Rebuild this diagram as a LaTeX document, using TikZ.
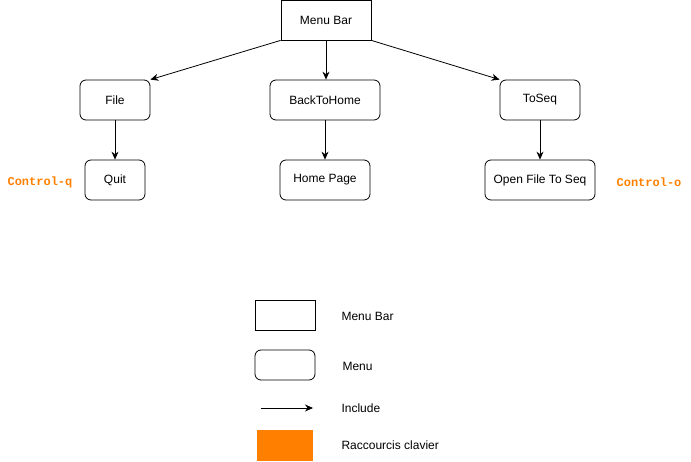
\documentclass[tikz,border=0pt]{standalone}
\usepackage{fontspec}
\setmainfont{Liberation Sans}
\newfontfamily\shortcutfont{Liberation Mono}
\usetikzlibrary{arrows.meta}
\definecolor{shortcut}{HTML}{FF8000}
\begin{document}
\begin{tikzpicture}[x=1pt,y=-1pt]
    \tikzstyle{menubar}=[draw=black,line width=0.8pt,minimum width=90pt,minimum height=40pt,inner sep=0pt,font=\fontsize{12}{14}\selectfont]
    \tikzstyle{menu}=[draw=black,line width=0.8pt,rounded corners=6pt,minimum height=40pt,inner sep=0pt,font=\fontsize{12}{14}\selectfont]
    \tikzstyle{include}=[draw,line width=0.8pt,-{Stealth[length=8pt,width=7pt]}]
    \tikzstyle{key}=[text=shortcut,font=\fontsize{12}{14}\selectfont\shortcutfont\bfseries]
    \tikzstyle{legendtext}=[anchor=west,font=\fontsize{12}{14}\selectfont]
    \useasboundingbox (0,0) rectangle (691,461);
    % tree
    \node [menubar] (bar) at (326,20) {Menu Bar};
    \node [menu,minimum width=70pt] (file) at (115,100) {File};
    \node [menu,minimum width=110pt] (home) at (325,100) {BackToHome};
    \node [menu,minimum width=80pt] (toseq) at (540,100) {ToSeq};
    \node [menu,minimum width=60pt] (quit) at (115,180) {Quit};
    \node [menu,minimum width=90pt] (page) at (325,180) {Home Page};
    \node [menu,minimum width=110pt] (open) at (540,180) {Open File To Seq};
    \node [key] (ctrlq) at (40,182) {Control-q};
    \node [key] (ctrlo) at (649,182) {Control-o};
    \path[include] (bar.south west) -- (file.north east);
    \path[include] (bar.south) -- (bar.south |- home.north);
    \path[include] (bar.south east) -- (toseq.north west);
    \path[include] (file) -- (quit);
    \path[include] (home) -- (page);
    \path[include] (toseq) -- (open);
    % legend
    \node [menubar,minimum width=60pt,minimum height=30pt] (lbar) at (285,315) {};
    \node [menu,minimum width=60pt,minimum height=30pt] (lmenu) at (285,365) {};
    \coordinate (la) at (261,408);
    \coordinate (lb) at (313,408);
    \path[include] (la) -- (lb);
    \node [fill=shortcut,minimum width=56pt,minimum height=31pt,inner sep=0pt] (lkey) at (285,445.5) {};
    \node [legendtext] (tbar) at (338,316) {Menu Bar};
    \node [legendtext] (tmenu) at (339,366) {Menu};
    \node [legendtext] (tinc) at (338,408) {Include};
    \node [legendtext] (tkey) at (338,445) {Raccourcis clavier};
\end{tikzpicture}
\end{document}
